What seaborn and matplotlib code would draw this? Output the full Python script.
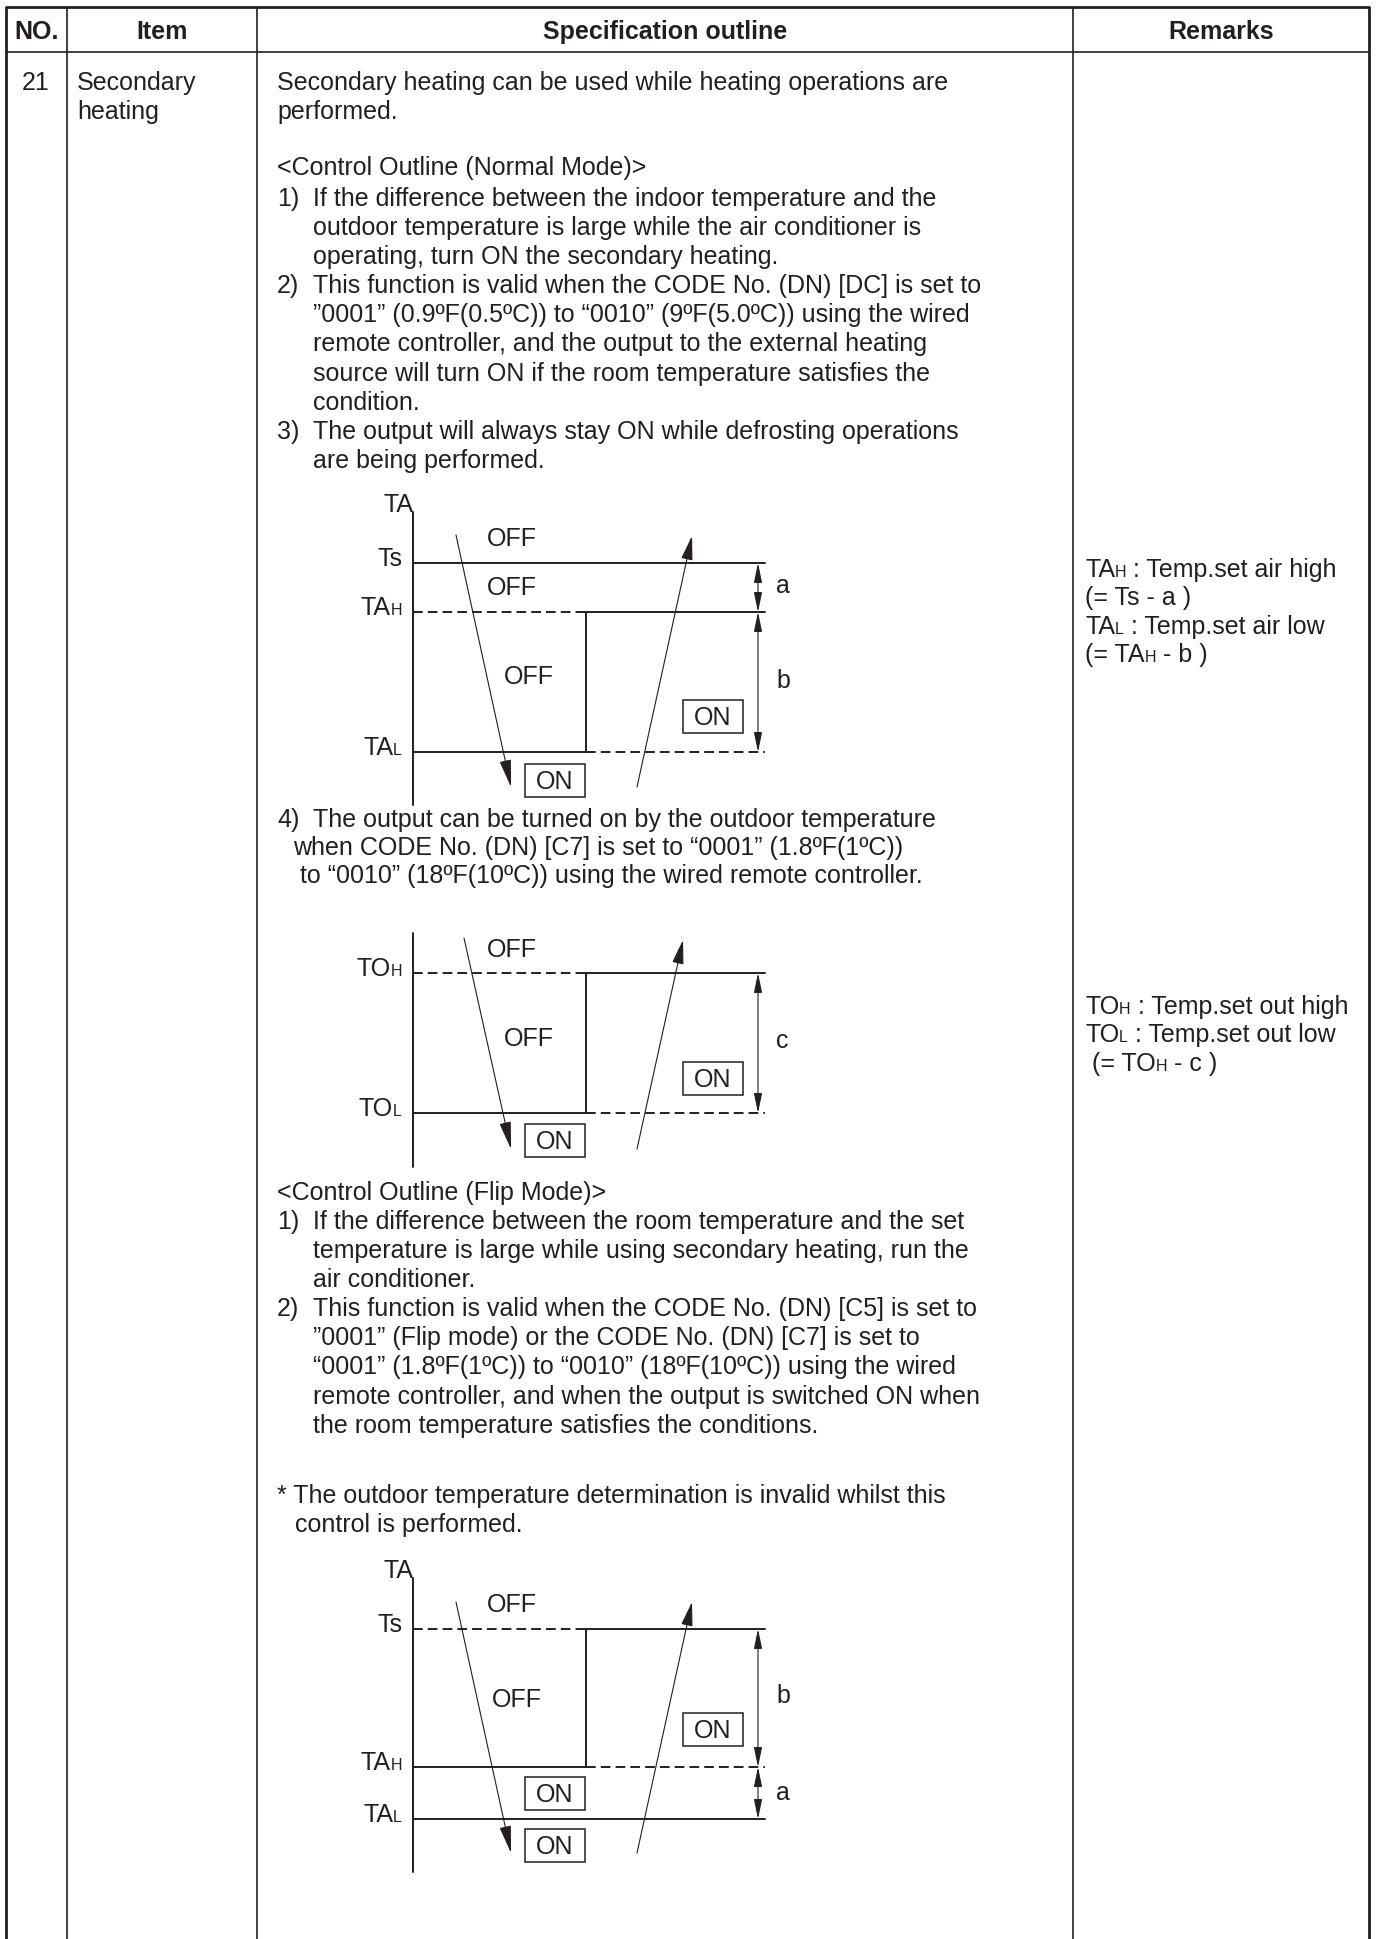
import re
import matplotlib
matplotlib.use("Agg")
import matplotlib.pyplot as plt
from matplotlib.patches import Rectangle, FancyArrowPatch, ArrowStyle
import pandas as pd
import seaborn as sns

sns.set_theme(style="white")
plt.rcParams["font.family"] = ["Liberation Sans", "DejaVu Sans"]

INK = "#231f20"
FS = 18
FS_SMALL = 11.5

# ---------------- data ----------------
header_labels = ["NO.", "Item", "Specification outline", "Remarks"]
item_no = "21"
item_name = ["Secondary", "heating"]

intro_lines = ["Secondary heating can be used while heating operations are",
               "performed."]

normal_title = "<Control Outline (Normal Mode)>"
normal_items = [
    ("1)", ["If the difference between the indoor temperature and the",
            "outdoor temperature is large while the air conditioner is",
            "operating, turn ON the secondary heating."]),
    ("2)", ["This function is valid when the CODE No. (DN) [DC] is set to",
            "\u201d0001\u201d (0.9\u00baF(0.5\u00baC)) to \u201c0010\u201d (9\u00baF(5.0\u00baC)) using the wired",
            "remote controller, and the output to the external heating",
            "source will turn ON if the room temperature satisfies the",
            "condition."]),
    ("3)", ["The output will always stay ON while defrosting operations",
            "are being performed."]),
]
item4_lines = ["The output can be turned on by the outdoor temperature",
               "when CODE No. (DN) [C7] is set to \u201c0001\u201d (1.8\u00baF(1\u00baC))",
               "to \u201c0010\u201d (18\u00baF(10\u00baC)) using the wired remote controller."]

flip_title = "<Control Outline (Flip Mode)>"
flip_items = [
    ("1)", ["If the difference between the room temperature and the set",
            "temperature is large while using secondary heating, run the",
            "air conditioner."]),
    ("2)", ["This function is valid when the CODE No. (DN) [C5] is set to",
            "\u201d0001\u201d (Flip mode) or the CODE No. (DN) [C7] is set to",
            "\u201c0001\u201d (1.8\u00baF(1\u00baC)) to \u201c0010\u201d (18\u00baF(10\u00baC)) using the wired",
            "remote controller, and when the output is switched ON when",
            "the room temperature satisfies the conditions."]),
]
note_lines = ["* The outdoor temperature determination is invalid whilst this",
              "control is performed."]

remarks_air = ["TA_H : Temp.set air high", "(= Ts - a )",
               "TA_L : Temp.set air low", "(= TA_H - b )"]
remarks_out = ["TO_H : Temp.set out high", "TO_L : Temp.set out low",
               " (= TO_H - c )"]

# schematic diagrams: threshold level names and their levels
diagram_titles = ["TA", "", "TA"]
diagram_level_names = [["Ts", "TA_H", "TA_L"], ["TO_H", "TO_L"], ["Ts", "TA_H", "TA_L"]]
diagram_levels = [[563, 612, 752], [973, 1113], [1629, 1767, 1819]]
diagram_step = [(1, 2), (0, 1), (0, 1)]        # hysteresis pair (upper, lower)
diagram_full = [[0], [], [2]]                  # levels drawn as full solid line
diagram_dims = [[(0, 1, "a"), (1, 2, "b")], [(0, 1, "c")], [(0, 1, "b"), (1, 2, "a")]]
diagram_off = [["OFF", "OFF", "OFF"], ["OFF", "OFF"], ["OFF", "OFF"]]
diagram_on = [["ON", "ON"], ["ON", "ON"], ["ON", "ON", "ON"]]

# ---------------- layout ----------------
W, H = 1376, 1939
col_edges = [6, 67, 257, 1073, 1369]
top_y, head_y = 7, 52
TX, NX, NUMX = 313, 277, 277
LS = 29.1

axis_x, step_x, right_x, dim_x = 413, 586, 765, 758
axis_span = [(512, 805), (933, 1167), (1578, 1872)]
off_pos = [[(512, 537), (512, 586), (529, 675)],
           [(512, 948), (529, 1037)],
           [(512, 1603), (517, 1698)]]
on_pos = [[(555, 780), (713, 716)],
          [(555, 1140), (713, 1078)],
          [(555, 1845), (555, 1793), (713, 1729)]]
down_arrow = [((456, 535), (511, 787)), ((464, 938), (511, 1149)), ((456, 1602), (511, 1853))]
up_arrow = [((637, 787), (692, 536)), ((637, 1149), (683, 940)), ((637, 1853), (692, 1602))]
dim_label_y = [[593, 688], [1048], [1703, 1800]]

fig = plt.figure(figsize=(W / 100, H / 100), dpi=100)
fig.patch.set_facecolor("white")
ax = fig.add_axes([0, 0, 1, 1])
ax.set_xlim(0, W)
ax.set_ylim(H, 0)
ax.set_autoscale_on(False)
ax.axis("off")
renderer = fig.canvas.get_renderer()


def measure(s, fs, weight="normal"):
    t1 = ax.text(0, 0, "|" + s + "|", fontsize=fs, fontweight=weight)
    t2 = ax.text(0, 0, "||", fontsize=fs, fontweight=weight)
    w = t1.get_window_extent(renderer).width - t2.get_window_extent(renderer).width
    t1.remove()
    t2.remove()
    return w


def rich(x, y, s, fs=FS, ha="left", weight="normal"):
    parts = re.split(r"_(\w)", s)
    segs = [(p, FS_SMALL if i % 2 else fs) for i, p in enumerate(parts) if p]
    widths = [measure(p, f, weight) for p, f in segs]
    total = sum(widths)
    x0 = x - total if ha == "right" else (x - total / 2 if ha == "center" else x)
    for (p, f), w in zip(segs, widths):
        ax.text(x0, y, p, fontsize=f, va="baseline", ha="left", color=INK, fontweight=weight)
        x0 += w


def seg(x0, x1, y0, y1, dashed=False, lw=1.4):
    df = pd.DataFrame({"x": [x0, x1], "y": [y0, y1]})
    kws = dict(color=INK, linewidth=lw, estimator=None, sort=False, legend=False)
    if dashed:
        kws["linestyle"] = (0, (5.0, 2.6))
    sns.lineplot(data=df, x="x", y="y", ax=ax, **kws)


def arrow(p0, p1, style, hl, hw, lw=0.8):
    a = FancyArrowPatch(p0, p1, arrowstyle=ArrowStyle(style, head_length=hl, head_width=hw),
                        mutation_scale=10, shrinkA=0, shrinkB=0, color=INK, lw=lw,
                        joinstyle="miter")
    ax.add_patch(a)


# ---------------- table ----------------
for i, x in enumerate(col_edges):
    lw = 2.0 if i in (0, len(col_edges) - 1) else 1.2
    ax.plot([x, x], [top_y, H], color=INK, lw=lw, solid_capstyle="butt")
ax.plot([col_edges[0], col_edges[-1]], [top_y, top_y], color=INK, lw=2.0)
ax.plot([col_edges[0], col_edges[-1]], [head_y, head_y], color=INK, lw=1.2)

for lab, a, b in zip(header_labels, col_edges[:-1], col_edges[1:]):
    ax.text((a + b) / 2, 39, lab, fontsize=FS, fontweight="bold", ha="center",
            va="baseline", color=INK)

ax.text(36, 90, item_no, fontsize=FS, ha="center", va="baseline", color=INK)
for k, s in enumerate(item_name):
    ax.text(77, 90 + k * LS, s, fontsize=FS, va="baseline", color=INK)

# ---------------- specification text ----------------
for k, s in enumerate(intro_lines):
    ax.text(NX, 90 + k * LS, s, fontsize=FS, va="baseline", color=INK)

ax.text(NX, 175, normal_title, fontsize=FS, va="baseline", color=INK)
y = 206
for num, lines in normal_items:
    ax.text(NUMX, y, num, fontsize=FS, va="baseline", color=INK)
    for s in lines:
        ax.text(TX, y, s, fontsize=FS, va="baseline", color=INK)
        y += LS

ax.text(NUMX, 827, "4)", fontsize=FS, va="baseline", color=INK)
for s, x, yy in zip(item4_lines, [TX, 293, 300], [827, 855, 883]):
    ax.text(x, yy, s, fontsize=FS, va="baseline", color=INK)

ax.text(NX, 1200, flip_title, fontsize=FS, va="baseline", color=INK)
y = 1229
for num, lines in flip_items:
    ax.text(NUMX, y, num, fontsize=FS, va="baseline", color=INK)
    for s in lines:
        ax.text(TX, y, s, fontsize=FS, va="baseline", color=INK)
        y += LS
ax.text(NX, 1503, note_lines[0], fontsize=FS, va="baseline", color=INK)
ax.text(295, 1532, note_lines[1], fontsize=FS, va="baseline", color=INK)

# ---------------- remarks ----------------
RX = 1085
for k, s in enumerate(remarks_air):
    rich(RX, 577 + k * 28.3, s)
for k, s in enumerate(remarks_out):
    rich(RX, 1014 + k * 28.3, s)

# ---------------- diagrams ----------------
for d in range(3):
    lv = diagram_levels[d]
    y0, y1 = axis_span[d]
    seg(axis_x, axis_x, y0, y1, lw=1.4)
    if diagram_titles[d]:
        rich(axis_x, y0, diagram_titles[d], ha="right")
    for name, yy in zip(diagram_level_names[d], lv):
        rich(402, yy + 3, name, ha="right")
    up_i, lo_i = diagram_step[d]
    yu, yl = lv[up_i], lv[lo_i]
    seg(axis_x, step_x, yu, yu, dashed=True)
    seg(step_x, right_x, yu, yu)
    seg(axis_x, step_x, yl, yl)
    seg(step_x, right_x, yl, yl, dashed=True)
    seg(step_x, step_x, yu, yl)
    for i in diagram_full[d]:
        seg(axis_x, right_x, lv[i], lv[i])
    for (i, j, lab), ly in zip(diagram_dims[d], dim_label_y[d]):
        arrow((dim_x, lv[i]), (dim_x, lv[j]), "<|-|>", 1.2, 0.25)
        ax.text(776, ly, lab, fontsize=FS, va="baseline", color=INK)
    for lab, (cx, cy) in zip(diagram_off[d], off_pos[d]):
        ax.text(cx, cy + 9, lab, fontsize=FS, ha="center", va="baseline", color=INK)
    for lab, (cx, cy) in zip(diagram_on[d], on_pos[d]):
        ax.add_patch(Rectangle((cx - 30, cy - 16.5), 60, 33, fill=False, ec=INK, lw=1.1))
        ax.text(cx, cy + 9, lab, fontsize=FS, ha="center", va="baseline", color=INK)
    arrow(down_arrow[d][0], down_arrow[d][1], "-|>", 1.7, 0.36)
    arrow(up_arrow[d][0], up_arrow[d][1], "-|>", 1.5, 0.36)

ax.set_xlim(0, W)
ax.set_ylim(H, 0)
fig.savefig("out.png", dpi=100, facecolor="white")
